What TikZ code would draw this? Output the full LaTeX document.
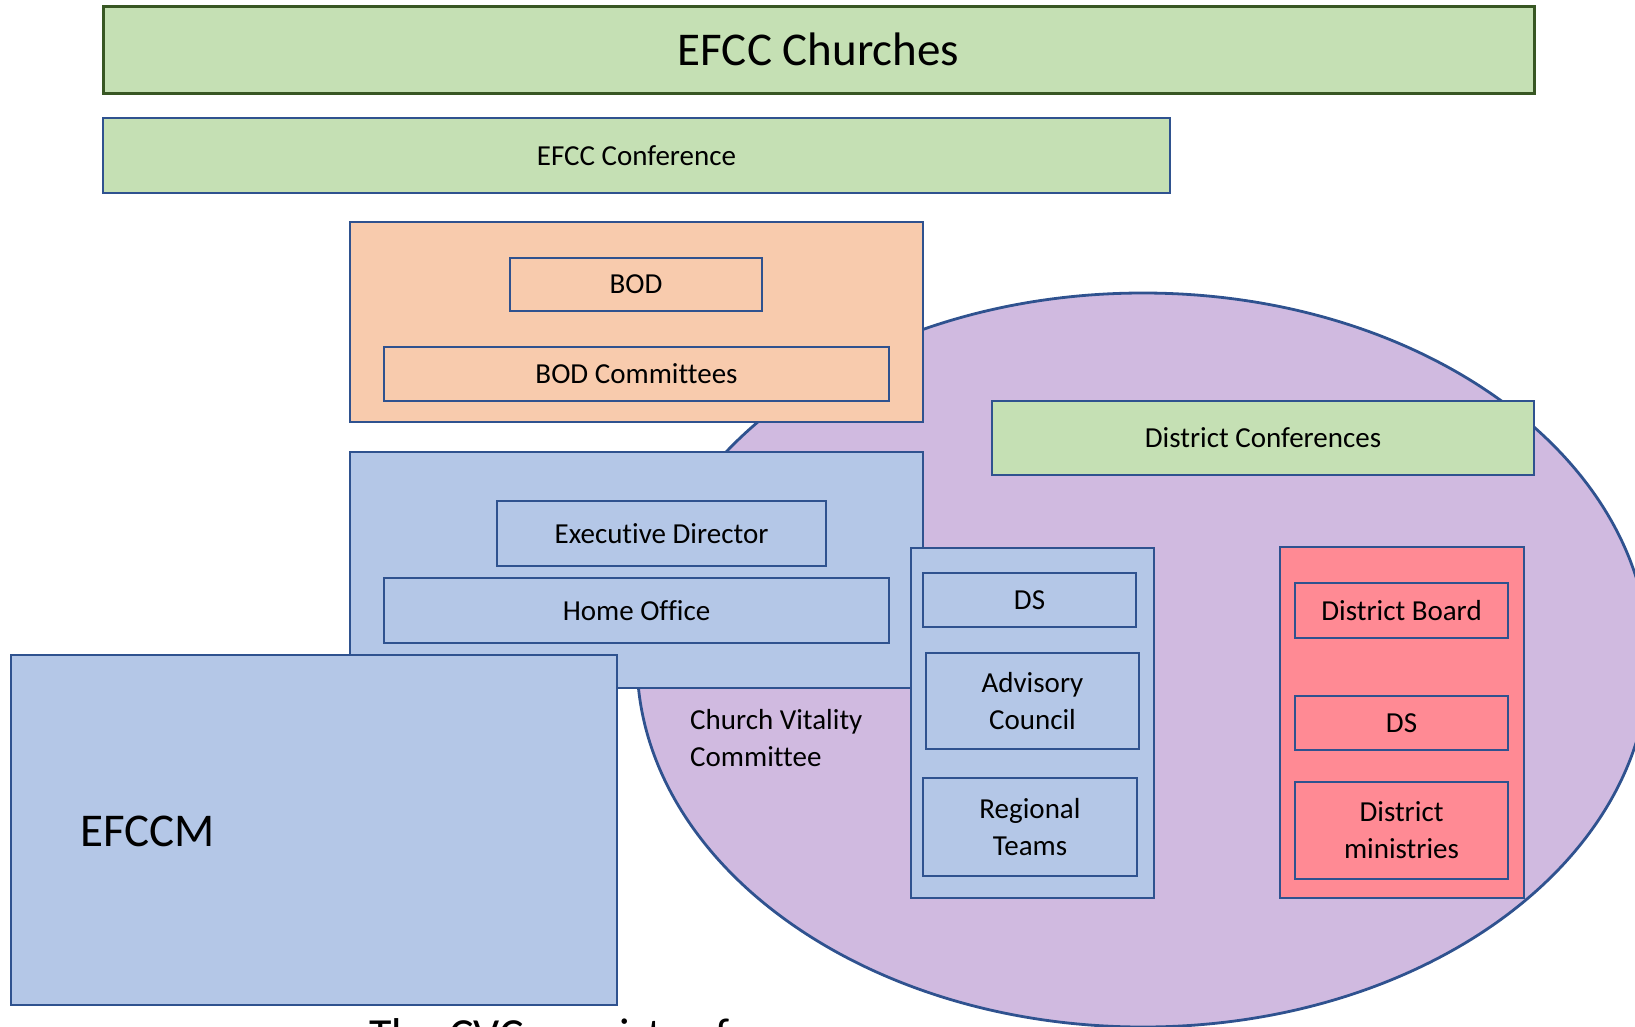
\documentclass[tikz,border=0pt]{standalone}
\usepackage{fontspec}
\setmainfont{Carlito}[RawFeature={-liga;-dlig}]
\usetikzlibrary{shapes.geometric}
\definecolor{bord}{HTML}{2F528F}
\definecolor{dgreen}{HTML}{385723}
\definecolor{grn}{HTML}{C5E0B4}
\definecolor{org}{HTML}{F8CBAD}
\definecolor{blu}{HTML}{B4C7E7}
\definecolor{lil}{HTML}{D0BAE0}
\definecolor{red}{HTML}{FF8A94}
\tikzset{
  box/.style={draw=bord, line width=2.8pt, inner sep=0pt, align=center,
    font=\fontsize{29}{37}\selectfont, text=black},
  gbox/.style={box, fill=grn},
  obox/.style={box, fill=org},
  bbox/.style={box, fill=blu},
  rbox/.style={box, fill=red},
  big/.style={font=\fontsize{47}{56}\selectfont}
}
\begin{document}
\begin{tikzpicture}[x=1pt,y=-1pt]
\useasboundingbox (0,0) rectangle (1635,1026);
\node[gbox, draw=dgreen, line width=3pt, big, minimum width=1431pt, minimum height=87pt] (churches) at (818.5,49.5) {EFCC Churches};
\node[gbox, minimum width=1067pt, minimum height=75pt] (conf) at (636.5,155.5) {EFCC Conference};
\node[draw=bord, line width=2.8pt, fill=lil, ellipse, inner sep=0pt, minimum width=1012pt, minimum height=734pt] (oval) at (1143,660) {};
\node[obox, minimum width=573pt, minimum height=200pt] (orange) at (636.5,322) {};
\node[obox, minimum width=252pt, minimum height=53pt] (bod) at (636,284.5) {BOD};
\node[obox, minimum width=505pt, minimum height=54pt] (bodc) at (636.5,374) {BOD Committees};
\node[bbox, minimum width=573pt, minimum height=236pt] (office) at (636.5,570) {};
\node[bbox, minimum width=329pt, minimum height=65pt] (exec) at (661.5,533.5) {Executive Director};
\node[bbox, minimum width=505pt, minimum height=65pt] (home) at (636.5,610.5) {Home Office};
\node[bbox, minimum width=606pt, minimum height=350pt] (efccm) at (314,830) {};
\node[anchor=west, inner sep=0pt, big] (efccmlbl) at (80,831) {EFCCM};
\node[gbox, minimum width=542pt, minimum height=74pt] (distconf) at (1263,438) {District Conferences};
\node[anchor=west, inner sep=0pt, align=left, font=\fontsize{29}{37}\selectfont] (cvclbl) at (690,738.5) {Church Vitality\\Committee};
\node[bbox, minimum width=243pt, minimum height=350pt] (cvc) at (1032.5,723) {};
\node[bbox, minimum width=213pt, minimum height=54pt] (ds1) at (1029.5,600) {DS};
\node[bbox, minimum width=213pt, minimum height=96pt] (adv) at (1032.5,701) {Advisory\\Council};
\node[bbox, minimum width=214pt, minimum height=98pt] (reg) at (1030,827) {Regional\\Teams};
\node[rbox, minimum width=244pt, minimum height=351pt] (dist) at (1402,722.5) {};
\node[rbox, minimum width=213pt, minimum height=55pt] (dboard) at (1401.5,610.5) {District Board};
\node[rbox, minimum width=213pt, minimum height=54pt] (ds2) at (1401.5,723) {DS};
\node[rbox, minimum width=213pt, minimum height=97pt] (dmin) at (1401.5,830.5) {District\\ministries};
\node[anchor=base west, inner sep=0pt, font=\fontsize{46}{55}\selectfont] (cvctext) at (369,1050) {The CVC consists of};
\end{tikzpicture}
\end{document}
